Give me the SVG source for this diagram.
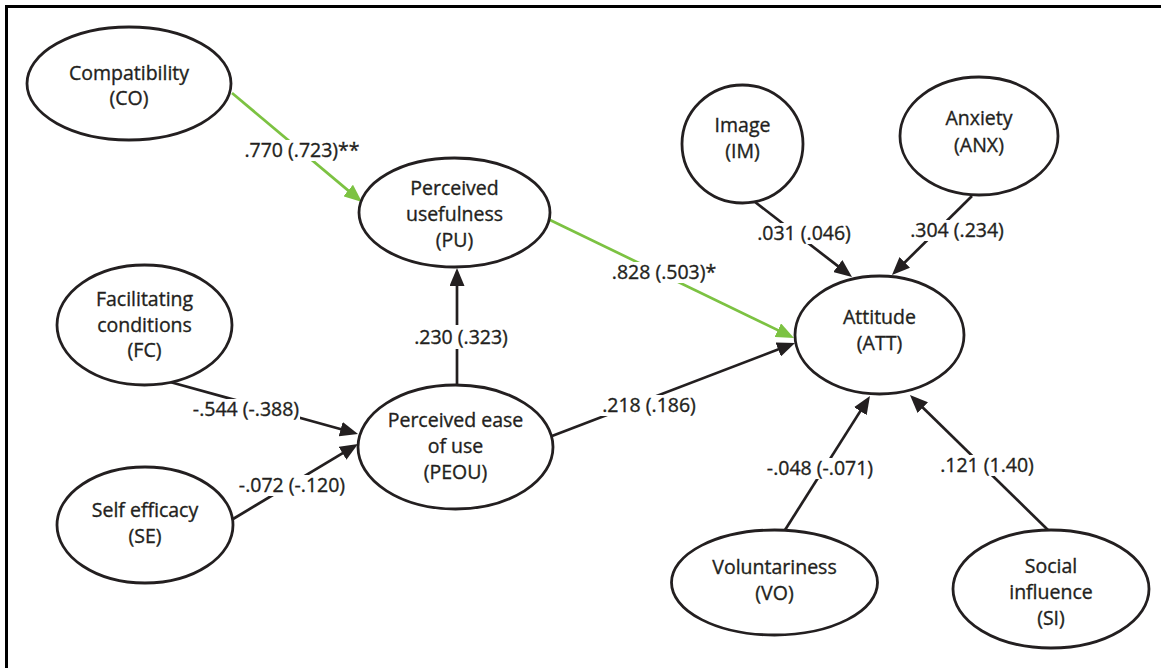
<svg xmlns="http://www.w3.org/2000/svg" width="1161" height="668" viewBox="0 0 1161 668">
<defs>
<style>
.node ellipse{fill:#fff;stroke:#231f20;stroke-width:2.8}
.node text,.lbl text{font-family:"Open Sans","Liberation Sans",sans-serif;font-size:19.5px;fill:#231f20;stroke:#231f20;stroke-width:0.35;text-anchor:middle}
.edge{stroke:#231f20;stroke-width:2.7;fill:none;marker-end:url(#ah)}
.edge.g{stroke:#7cc242;marker-end:url(#ahg)}
.lbl rect{fill:#fff}
</style>
<marker id="ah" markerUnits="userSpaceOnUse" markerWidth="18" markerHeight="15" refX="8" refY="7.5" orient="auto"><path d="M0,0 L18,7.5 L0,15 Z" fill="#231f20"/></marker>
<marker id="ahg" markerUnits="userSpaceOnUse" markerWidth="18" markerHeight="15" refX="8" refY="7.5" orient="auto"><path d="M0,0 L18,7.5 L0,15 Z" fill="#7cc242"/></marker>
</defs>
<rect width="1161" height="668" fill="#fff"/>
<path d="M6.5,668 V6.5 H1161" fill="none" stroke="#000" stroke-width="3"/>
<g id="connectors">
<line class="edge g" x1="232" y1="93" x2="354.3" y2="195.6"/>
<line class="edge g" x1="550" y1="220" x2="785" y2="333.6"/>
<line class="edge" x1="457" y1="385" x2="457" y2="278"/>
<line class="edge" x1="552" y1="436" x2="785.7" y2="346.6"/>
<line class="edge" x1="170" y1="382" x2="348.4" y2="431.3"/>
<line class="edge" x1="233" y1="519" x2="349.4" y2="449.1"/>
<line class="edge" x1="755" y1="202" x2="844.1" y2="270.9"/>
<line class="edge" x1="972" y1="196" x2="899.1" y2="268"/>
<line class="edge" x1="785" y1="530" x2="864.6" y2="404.4"/>
<line class="edge" x1="1048" y1="530" x2="917.1" y2="402"/>
<g class="lbl">
<rect x="240" y="140" width="125" height="21"/><text x="302" y="157">.770 (.723)**</text>
<rect x="611" y="262" width="106" height="21"/><text x="664" y="279">.828 (.503)*</text>
<rect x="413" y="325" width="97" height="24"/><text x="461" y="344">.230 (.323)</text>
<rect x="600" y="395" width="97" height="21"/><text x="649" y="412">.218 (.186)</text>
<rect x="191" y="399" width="109" height="21"/><text x="246" y="416">-.544 (-.388)</text>
<rect x="236" y="475" width="111" height="21"/><text x="292" y="492">-.072 (-.120)</text>
<rect x="755" y="223" width="99" height="21"/><text x="804" y="240">.031 (.046)</text>
<rect x="908" y="220" width="97" height="21"/><text x="957" y="237">.304 (.234)</text>
<rect x="766" y="458" width="109" height="21"/><text x="820" y="475">-.048 (-.071)</text>
<rect x="938" y="455" width="97" height="21"/><text x="987" y="472">.121 (1.40)</text>
</g>
</g>
<g id="CO" class="node"><ellipse cx="129" cy="83.5" rx="102" ry="56.5"/><text x="129" y="80">Compatibility</text><text x="129" y="105">(CO)</text></g>
<g id="PU" class="node"><ellipse cx="454.5" cy="212.5" rx="95.5" ry="54.5"/><text x="454.5" y="195">Perceived</text><text x="454.5" y="221">usefulness</text><text x="454.5" y="247">(PU)</text></g>
<g id="FC" class="node"><ellipse cx="144.5" cy="325" rx="87.5" ry="60"/><text x="144.5" y="306">Facilitating</text><text x="144.5" y="332">conditions</text><text x="144.5" y="357">(FC)</text></g>
<g id="SE" class="node"><ellipse cx="145" cy="525" rx="88" ry="58"/><text x="145" y="517">Self efficacy</text><text x="145" y="543">(SE)</text></g>
<g id="PEOU" class="node"><ellipse cx="455.5" cy="447" rx="97.5" ry="62"/><text x="455.5" y="427">Perceived ease</text><text x="455.5" y="453">of use</text><text x="455.5" y="479">(PEOU)</text></g>
<g id="IM" class="node"><ellipse cx="742.5" cy="144" rx="60.5" ry="59"/><text x="742.5" y="132">Image</text><text x="742.5" y="158">(IM)</text></g>
<g id="ANX" class="node"><ellipse cx="979" cy="136" rx="79" ry="59"/><text x="979" y="125">Anxiety</text><text x="979" y="152">(ANX)</text></g>
<g id="ATT" class="node"><ellipse cx="879.5" cy="335" rx="84.5" ry="59"/><text x="879.5" y="324">Attitude</text><text x="879.5" y="350">(ATT)</text></g>
<g id="VO" class="node"><ellipse cx="774.5" cy="582.5" rx="103" ry="52.5"/><text x="774.5" y="574">Voluntariness</text><text x="774.5" y="600">(VO)</text></g>
<g id="SI" class="node"><ellipse cx="1051" cy="589" rx="98" ry="59"/><text x="1051" y="573">Social</text><text x="1051" y="599">influence</text><text x="1051" y="625">(SI)</text></g>
</svg>
